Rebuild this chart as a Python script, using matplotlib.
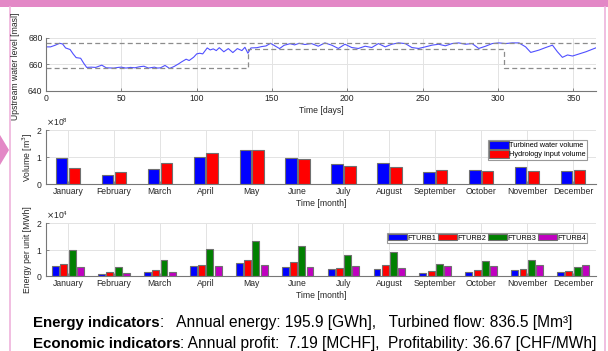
import numpy as np
import matplotlib
matplotlib.use('Agg')
import matplotlib.pyplot as plt
from matplotlib.patches import Rectangle, Polygon
from matplotlib.lines import Line2D
from matplotlib.ticker import ScalarFormatter

plt.rcParams['font.family'] = ['Liberation Sans', 'DejaVu Sans']

# Upstream water level
days = [0, 3, 6, 9, 11, 13, 16, 18, 20, 23, 25, 27, 30, 33, 37, 40, 45, 48, 50, 53,
        56, 59, 62, 65, 68, 72, 74, 76, 79, 82, 85, 88, 90, 93, 95, 98, 100, 102, 104,
        107, 109, 111, 113, 115, 118, 121, 124, 127, 130, 132, 134, 136, 140, 143, 146,
        149, 152, 155, 158, 162, 165, 168, 171.8, 176.2, 180.7, 185.1, 189.6, 194.0,
        198.4, 202.9, 207.3, 211.8, 216.2, 220.6, 225.1, 229.5, 234.0, 238.4, 242.8,
        247.3, 251.7, 256.2, 260.6, 265.0, 269.5, 273.9, 278.4, 282.8, 287.2, 291.7,
        296.1, 300.6, 305.0, 309.4, 313.9, 318.3, 321.7, 327.2, 331.6, 336.1, 339.4,
        342.7, 346.1, 349.4, 358.3, 365]
level = [673.3, 673.3, 674.5, 676.0, 675.5, 672.5, 671.3, 668.0, 665.2, 664.7, 661.0,
         657.8, 658.0, 657.8, 659.5, 657.5, 657.3, 657.8, 658.0, 657.3, 657.8, 657.5,
         658.3, 658.7, 657.3, 658.0, 657.3, 657.5, 659.3, 657.0, 658.5, 660.5, 662.0,
         664.0, 663.0, 665.5, 668.0, 668.5, 668.0, 672.5, 671.0, 671.8, 670.5, 672.7,
         669.6, 672.0, 669.0, 672.0, 670.5, 673.0, 668.5, 672.5, 672.7, 673.5, 674.0,
         676.0, 674.0, 672.0, 674.5, 675.7, 674.8, 676.0, 675.1, 675.8, 673.8, 676.3,
         674.6, 672.1, 675.3, 672.8, 672.1, 673.8, 672.8, 675.8, 673.3, 675.3, 676.3,
         675.8, 672.8, 672.1, 673.3, 674.6, 675.3, 674.1, 675.8, 676.3, 675.3, 675.8,
         672.1, 673.8, 675.8, 676.3, 675.8, 676.3, 676.3, 673.3, 669.1, 670.9, 672.8,
         674.6, 669.6, 665.4, 667.2, 666.4, 669.6, 672.6]

# Operating bounds
bound_days = [0, 134, 134, 304, 304, 365]
lower_bound = [657, 657, 672, 672, 657, 657]
upper_days = [0, 365]
upper_bound = [676, 676]

months = ['January', 'February', 'March', 'April', 'May', 'June', 'July',
          'August', 'September', 'October', 'November', 'December']

turbined_vol = [0.975e8, 0.33e8, 0.56e8, 0.99e8, 1.25e8, 0.96e8,
                0.73e8, 0.77e8, 0.46e8, 0.53e8, 0.63e8, 0.48e8]
hydrology_vol = [0.59e8, 0.43e8, 0.79e8, 1.14e8, 1.27e8, 0.93e8,
                 0.67e8, 0.64e8, 0.52e8, 0.49e8, 0.49e8, 0.52e8]

fturb1 = [0.38e4, 0.07e4, 0.16e4, 0.37e4, 0.48e4, 0.35e4, 0.26e4, 0.26e4, 0.12e4, 0.16e4, 0.22e4, 0.16e4]
fturb2 = [0.47e4, 0.16e4, 0.22e4, 0.43e4, 0.60e4, 0.52e4, 0.32e4, 0.41e4, 0.19e4, 0.22e4, 0.28e4, 0.17e4]
fturb3 = [0.975e4, 0.33e4, 0.60e4, 1.01e4, 1.32e4, 1.12e4, 0.79e4, 0.90e4, 0.47e4, 0.57e4, 0.60e4, 0.35e4]
fturb4 = [0.35e4, 0.12e4, 0.16e4, 0.38e4, 0.43e4, 0.33e4, 0.37e4, 0.32e4, 0.38e4, 0.38e4, 0.41e4, 0.42e4]

PINK = '#e388c6'
TXT = '#262626'
GRID = '#e3e3e3'
FS = 6.2

fig = plt.figure(figsize=(6.08, 3.51), dpi=100)


def style_axes(ax):
    for s in ['top', 'right']:
        ax.spines[s].set_visible(False)
    for s in ['left', 'bottom']:
        ax.spines[s].set_color('#777777')
        ax.spines[s].set_linewidth(0.8)
    ax.tick_params(direction='in', length=2, width=0.6, colors='#777777',
                   labelcolor=TXT, labelsize=FS, pad=2.5)
    ax.grid(True, color=GRID, linewidth=0.7)
    ax.set_axisbelow(True)


def sci_axis(ax):
    fmt = ScalarFormatter(useMathText=True)
    fmt.set_powerlimits((0, 0))
    ax.yaxis.set_major_formatter(fmt)
    off = ax.yaxis.get_offset_text()
    off.set_fontsize(FS)
    off.set_color(TXT)


# --- water level ---
ax1 = fig.add_axes([46/608, 1 - 91/351, 550/608, 53/351])
style_axes(ax1)
ax1.plot(days, level, color='#5050ff', linewidth=0.8)
ax1.plot(upper_days, upper_bound, '--', color='#8c8c8c', linewidth=0.9, dashes=(4, 2.5))
ax1.plot(bound_days, lower_bound, '--', color='#8c8c8c', linewidth=0.9, dashes=(4, 2.5))
ax1.set_xlim(0, 365)
ax1.set_ylim(640, 680)
ax1.set_xticks(np.arange(0, 351, 50))
ax1.set_yticks([640, 660, 680])
ax1.set_xlabel('Time [days]', fontsize=FS, color=TXT, labelpad=2)

x = np.arange(1, 13)

# --- volumes ---
ax2 = fig.add_axes([46/608, 1 - 184/351, 550/608, 54/351])
style_axes(ax2)
ax2.bar(x - 0.14, turbined_vol, width=0.25, color='#0000ff', edgecolor='#707070',
        linewidth=0.8, label='Turbined water volume')
ax2.bar(x + 0.14, hydrology_vol, width=0.25, color='#ff0000', edgecolor='#707070',
        linewidth=0.8, label='Hydrology input volume')
ax2.set_xlim(0.52, 12.5)
ax2.set_ylim(0, 2e8)
ax2.set_yticks([0, 1e8, 2e8])
ax2.set_xticks(x)
ax2.set_xticklabels(months)
sci_axis(ax2)
ax2.set_xlabel('Time [month]', fontsize=FS, color=TXT, labelpad=2)
leg = ax2.legend(loc='upper right', fontsize=5.3, fancybox=False, handlelength=2.6,
                 handleheight=1.25, handletextpad=0.1, borderpad=0.2, labelspacing=0.05,
                 framealpha=1, bbox_to_anchor=(0.991, 0.89))
leg.get_frame().set_edgecolor('#999999')
leg.get_frame().set_linewidth(0.8)

# --- energy per unit ---
ax3 = fig.add_axes([46/608, 1 - 276/351, 550/608, 53/351])
style_axes(ax3)
w = 0.15
for vals, off, col, lab in [(fturb1, -0.27, '#0000ff', 'FTURB1'),
                            (fturb2, -0.09, '#ff0000', 'FTURB2'),
                            (fturb3, 0.09, '#008000', 'FTURB3'),
                            (fturb4, 0.27, '#c000c0', 'FTURB4')]:
    ax3.bar(x + off, vals, width=w, color=col, edgecolor='#707070', linewidth=0.8, label=lab)
ax3.set_xlim(0.52, 12.5)
ax3.set_ylim(0, 2e4)
ax3.set_yticks([0, 1e4, 2e4])
ax3.set_xticks(x)
ax3.set_xticklabels(months)
sci_axis(ax3)
ax3.set_xlabel('Time [month]', fontsize=FS, color=TXT, labelpad=2)
leg3 = ax3.legend(loc='upper right', ncol=4, fontsize=5.3, fancybox=False, handlelength=2.6,
                  handleheight=1.0, handletextpad=0.1, borderpad=0.15, columnspacing=0.15,
                  framealpha=1, bbox_to_anchor=(0.991, 0.887))
leg3.get_frame().set_edgecolor('#999999')
leg3.get_frame().set_linewidth(0.8)

# y labels
fig.text(16/608, 1 - 66/351, 'Upstream water level [masl]', rotation=90, fontsize=FS,
         color=TXT, ha='center', va='center')
fig.text(28/608, 1 - 157/351, 'Volume [m$^3$]', rotation=90, fontsize=FS,
         color=TXT, ha='center', va='center')
fig.text(28/608, 1 - 250/351, 'Energy per unit [MWh]', rotation=90, fontsize=FS,
         color=TXT, ha='center', va='center')

# pink frame decorations
fig.patches.append(Rectangle((0, 1 - 7/351), 1, 7/351, transform=fig.transFigure,
                             facecolor=PINK, edgecolor='none'))
fig.lines.append(Line2D([10/608, 10/608], [0, 1 - 7/351], transform=fig.transFigure,
                        color='#efb3dc', linewidth=1.2))
fig.lines.append(Line2D([605/608, 605/608], [0, 1 - 7/351], transform=fig.transFigure,
                        color='#efb3dc', linewidth=1.2))
fig.patches.append(Polygon([(0, 1 - 135/351), (9/608, 1 - 150/351), (0, 1 - 165/351)],
                           closed=True, transform=fig.transFigure,
                           facecolor=PINK, edgecolor='none'))

# indicators text
renderer = fig.canvas.get_renderer()
lines = [('Energy indicators', ':   Annual energy: 195.9 [GWh],   Turbined flow: 836.5 [Mm³]', 327),
         ('Economic indicators', ': Annual profit:  7.19 [MCHF],  Profitability: 36.67 [CHF/MWh]', 348)]
for bold, rest, ybase in lines:
    t = fig.text(33/608, 1 - ybase/351, bold, fontsize=10.8, weight='bold', color='black',
                 va='baseline')
    bb = t.get_window_extent(renderer)
    fig.text(bb.x1/fig.bbox.width, 1 - ybase/351, rest, fontsize=11.2, color='black',
             va='baseline')

fig.savefig('out.png', dpi=100)
